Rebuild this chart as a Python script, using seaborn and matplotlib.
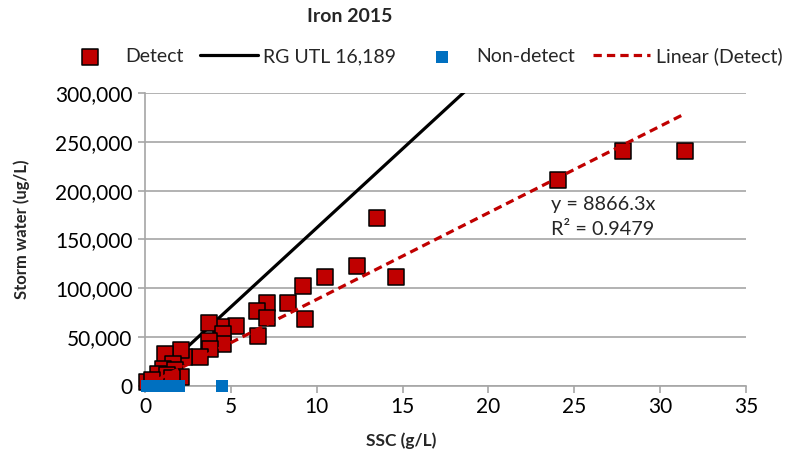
import matplotlib
matplotlib.use("Agg")
import matplotlib.pyplot as plt
import matplotlib.ticker as mticker
import numpy as np
import pandas as pd
import seaborn as sns

# Detected iron results: suspended sediment (g/L) vs storm water (ug/L)
detect_ssc = [31.45, 27.85, 24.07, 13.5, 12.35, 14.6, 10.5, 9.2, 9.3, 8.35,
              7.1, 6.5, 7.1, 6.6, 5.3, 4.4, 3.7, 4.56, 4.56, 3.7,
              3.8, 3.2, 2.3, 2.1, 1.16, 1.65, 1.07, 1.75, 2.1, 0.78,
              1.26, 1.55, 0.1, 0.4]
detect_fe = [241000, 241000, 211000, 172000, 123000, 112000, 112000, 102000, 68500, 85000,
             85000, 77000, 70000, 51500, 61500, 60000, 65000, 53000, 43000, 46500,
             38000, 29500, 29500, 37000, 33000, 22800, 17700, 16000, 9000, 12600,
             11000, 8000, 4000, 6000]

# Non-detect results plotted at zero
nondetect_ssc = [0.1, 0.35, 0.6, 0.85, 1.1, 1.35, 1.6, 1.85, 2.0, 4.47]
nondetect_fe = [0, 0, 0, 0, 0, 0, 0, 0, 0, 0]

utl_slope = 16189      # RG UTL, ug iron per g sediment
trend_slope = 8866.3   # linear fit through origin for detects
trend_r2 = 0.9479

x_ticks = [0, 5, 10, 15, 20, 25, 30, 35]
y_ticks = [0, 50000, 100000, 150000, 200000, 250000, 300000]

sns.set_style("white")
plt.rcParams["font.family"] = ["Lato", "DejaVu Sans"]

fig = plt.figure(figsize=(7.86, 4.61), dpi=100)
ax = fig.add_axes([145 / 786, 1 - 386 / 461, 601 / 786, 293 / 461])

detect = pd.DataFrame({"ssc": detect_ssc, "fe": detect_fe})
nondetect = pd.DataFrame({"ssc": nondetect_ssc, "fe": nondetect_fe})

utl_x = np.array([0.0, 35.0])
utl = pd.DataFrame({"ssc": utl_x, "fe": utl_slope * utl_x})
trend_x = np.array([min(detect_ssc), max(detect_ssc)])
trend = pd.DataFrame({"ssc": trend_x, "fe": trend_slope * trend_x})

sns.lineplot(data=utl, x="ssc", y="fe", ax=ax, color="black", lw=2.3,
             label="RG UTL 16,189", zorder=2)
sns.scatterplot(data=detect, x="ssc", y="fe", ax=ax, marker="s", s=118,
                color="#C00000", edgecolor="black", linewidth=1.1,
                label="Detect", zorder=3, clip_on=False)
sns.lineplot(data=trend, x="ssc", y="fe", ax=ax, color="#C00000", lw=2.3,
             dashes=False, label="Linear (Detect)", zorder=4)
ax.lines[-1].set_dashes((2.6, 1.6))
sns.scatterplot(data=nondetect, x="ssc", y="fe", ax=ax, marker="s", s=75,
                color="#0070C0", linewidth=0, label="Non-detect", zorder=5,
                clip_on=False)

ax.set_xlim(0, 35)
ax.set_ylim(0, 300000)
ax.set_xticks(x_ticks)
ax.set_yticks(y_ticks)
ax.yaxis.set_major_formatter(mticker.FuncFormatter(lambda v, p: f"{int(v):,}"))
ax.grid(axis="y", color="#A6A6A6", lw=1.2)
ax.set_axisbelow(True)
for side in ("top", "right"):
    ax.spines[side].set_visible(False)
for side in ("left", "bottom"):
    ax.spines[side].set_color("#A6A6A6")
    ax.spines[side].set_linewidth(1.2)
ax.tick_params(axis="both", which="major", length=5, width=1.2, color="#A6A6A6",
               labelsize=15, labelcolor="black", pad=4)
ax.tick_params(axis="x", bottom=True, direction="out", pad=3)
ax.tick_params(axis="y", left=True, direction="out")

ax.set_xlabel("SSC (g/L)", fontsize=12.5, fontweight="bold")
ax.set_ylabel("Storm water (ug/L)", fontsize=12, fontweight="bold")
ax.xaxis.set_label_coords((401 - 145) / 601, -0.16)
ax.yaxis.set_label_coords(-0.192, (386 - 229) / 293)

fig.text(350 / 786, 1 - 16 / 461, "Iron 2015", ha="center", va="center",
         fontsize=14, fontweight="bold")

fig.text(551 / 786, 1 - 204 / 461, f"y = {trend_slope}x", ha="left",
         va="center", fontsize=14.3)
fig.text(551 / 786, 1 - 229 / 461, f"R² = {trend_r2}", ha="left",
         va="center", fontsize=14.3)

handles, labels = ax.get_legend_handles_labels()
order = ["Detect", "RG UTL 16,189", "Non-detect", "Linear (Detect)"]
hmap = dict(zip(labels, handles))
ax.get_legend().remove()
fig.legend([hmap[k] for k in order], order, loc="center",
           bbox_to_anchor=(422 / 786, 1 - 56 / 461), ncol=4, frameon=False,
           fontsize=14, handlelength=2.95, handletextpad=0.3,
           columnspacing=0.88, borderaxespad=0)

fig.savefig("out.png", dpi=100)
